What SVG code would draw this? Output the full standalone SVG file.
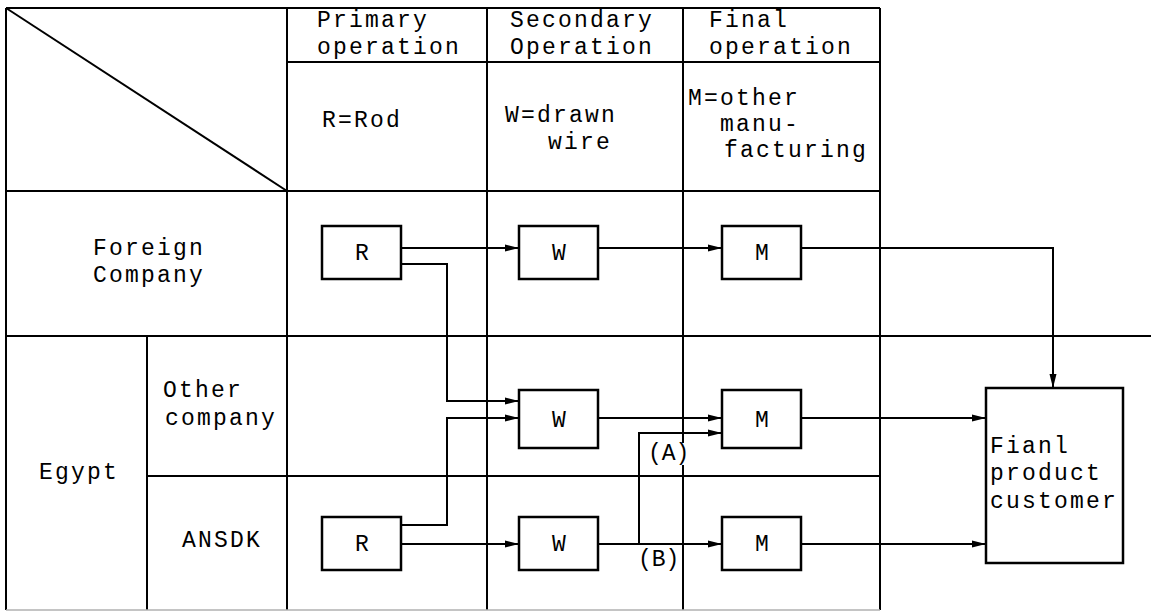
<svg xmlns="http://www.w3.org/2000/svg" width="1151" height="612" viewBox="0 0 1151 612">
<style>
.grid{stroke:#000;stroke-width:2;fill:none}
.faint{stroke:#b0b0b0;stroke-width:1.5;fill:none}
.box{stroke:#000;stroke-width:2.5;fill:#fff}
.conn{stroke:#000;stroke-width:2;fill:none}
.t{font-family:"Liberation Mono","Courier New",monospace;font-size:23px;letter-spacing:2.2px;fill:#000}
.n{letter-spacing:0}
.c{text-anchor:middle}
</style>
<defs>
<marker id="arr" markerUnits="userSpaceOnUse" markerWidth="15" markerHeight="8" refX="14" refY="4" orient="auto">
<path d="M0,0.5 L14,4 L0,7.5 z" fill="#000"/>
</marker>
</defs>
<rect width="1151" height="612" fill="#fff"/>
<g id="table">
<line class="grid" x1="6" y1="8" x2="880" y2="8"/>
<line class="grid" x1="6" y1="8" x2="6" y2="610"/>
<line class="grid" x1="287" y1="8" x2="287" y2="610"/>
<line class="grid" x1="487" y1="8" x2="487" y2="610"/>
<line class="grid" x1="683" y1="8" x2="683" y2="443"/>
<line class="grid" x1="683" y1="465" x2="683" y2="610"/>
<line class="grid" x1="880" y1="8" x2="880" y2="610"/>
<line class="grid" x1="287" y1="62" x2="880" y2="62"/>
<line class="grid" x1="6" y1="191" x2="880" y2="191"/>
<line class="grid" x1="6" y1="336" x2="1151" y2="336"/>
<line class="grid" x1="147" y1="336" x2="147" y2="610"/>
<line class="grid" x1="147" y1="476" x2="880" y2="476"/>
<line class="faint" x1="6" y1="610" x2="880" y2="610"/>
<line class="grid" x1="6" y1="8" x2="287" y2="191"/>
</g>
<g id="headers">
<text class="t" x="317" y="27">Primary</text>
<text class="t" x="317" y="54">operation</text>
<text class="t" x="510" y="27">Secondary</text>
<text class="t" x="510" y="54">Operation</text>
<text class="t" x="709" y="27">Final</text>
<text class="t" x="709" y="54">operation</text>
<text class="t" x="322" y="127">R=Rod</text>
<text class="t" x="505" y="122">W=drawn</text>
<text class="t" x="548" y="149">wire</text>
<text class="t" x="688" y="105">M=other</text>
<text class="t" x="720" y="131">manu-</text>
<text class="t" x="724" y="157">facturing</text>
</g>
<g id="rows">
<text class="t" x="93" y="255">Foreign</text>
<text class="t" x="93" y="282">Company</text>
<text class="t" x="163" y="397">Other</text>
<text class="t" x="165" y="425">company</text>
<text class="t" x="39" y="479">Egypt</text>
<text class="t" x="182" y="547">ANSDK</text>
</g>
<g id="connectors">
<path class="conn" d="M401,248 H519" marker-end="url(#arr)"/>
<path class="conn" d="M401,264 H447 V401 H519" marker-end="url(#arr)"/>
<path class="conn" d="M598,248 H722" marker-end="url(#arr)"/>
<path class="conn" d="M801,248 H1053 V388" marker-end="url(#arr)"/>
<path class="conn" d="M401,525 H447 V418 H519" marker-end="url(#arr)"/>
<path class="conn" d="M401,544 H519" marker-end="url(#arr)"/>
<path class="conn" d="M598,418 H722" marker-end="url(#arr)"/>
<path class="conn" d="M598,544 H722" marker-end="url(#arr)"/>
<path class="conn" d="M639,544 V433 H722" marker-end="url(#arr)"/>
<path class="conn" d="M801,418 H986" marker-end="url(#arr)"/>
<path class="conn" d="M801,544 H986" marker-end="url(#arr)"/>
<text class="t n" x="648" y="460">(A)</text>
<text class="t n" x="638" y="566">(B)</text>
</g>
<g id="node-R-foreign">
<rect class="box" x="322" y="226" width="79" height="53"/>
<text class="t c n" x="362" y="260">R</text>
</g>
<g id="node-W-foreign">
<rect class="box" x="519" y="226" width="79" height="53"/>
<text class="t c n" x="559" y="260">W</text>
</g>
<g id="node-M-foreign">
<rect class="box" x="722" y="226" width="79" height="53"/>
<text class="t c n" x="762" y="260">M</text>
</g>
<g id="node-W-other">
<rect class="box" x="519" y="390" width="79" height="58"/>
<text class="t c n" x="559" y="427">W</text>
</g>
<g id="node-M-other">
<rect class="box" x="722" y="390" width="79" height="58"/>
<text class="t c n" x="762" y="427">M</text>
</g>
<g id="node-R-ansdk">
<rect class="box" x="322" y="517" width="79" height="53"/>
<text class="t c n" x="362" y="551">R</text>
</g>
<g id="node-W-ansdk">
<rect class="box" x="519" y="517" width="79" height="53"/>
<text class="t c n" x="559" y="551">W</text>
</g>
<g id="node-M-ansdk">
<rect class="box" x="722" y="517" width="79" height="53"/>
<text class="t c n" x="762" y="551">M</text>
</g>
<g id="node-customer">
<rect class="box" x="986" y="388" width="137" height="175"/>
<text class="t" x="990" y="453">Fianl</text>
<text class="t" x="990" y="480">product</text>
<text class="t" x="990" y="508">customer</text>
</g>
</svg>
